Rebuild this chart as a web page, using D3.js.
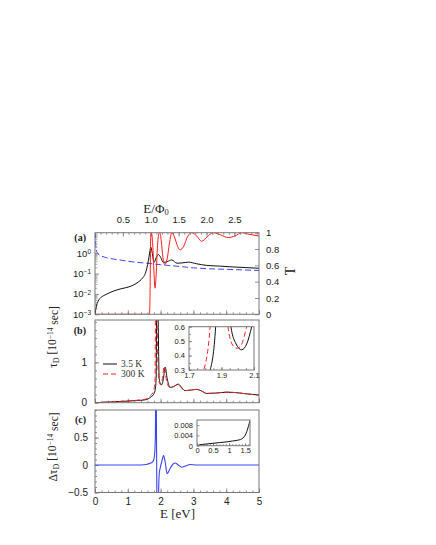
<!DOCTYPE html>
<html>
<head>
<meta charset="utf-8">
<script src="https://cdn.jsdelivr.net/npm/d3@7"></script>
<style>
  body { margin: 0; background: #fff; }
  .serif { font-family: "Liberation Serif", "Times New Roman", serif; }
</style>
</head>
<body>
<div id="chart"></div>
<script>
// ---- data ----
// (a) left log axis: black curve and blue dashed curve
let aBlackE = [0, 0.02, 0.05, 0.1, 0.15, 0.25, 0.36, 0.55, 0.8, 1.07, 1.25, 1.37, 1.45, 1.52, 1.58, 1.63, 1.67, 1.70, 1.74, 1.80, 1.87, 1.93, 2.0, 2.08, 2.2, 2.34, 2.5, 2.65, 2.85, 3.1, 3.4, 3.8, 4.2, 4.6, 5.0]
let aBlackV = [0.001, 0.0016, 0.0028, 0.0045, 0.006, 0.008, 0.0098, 0.0135, 0.018, 0.023, 0.032, 0.044, 0.06, 0.089, 0.18, 0.45, 1.12, 2.0, 1.12, 0.35, 0.63, 0.85, 0.63, 0.35, 0.38, 0.46, 0.32, 0.33, 0.36, 0.30, 0.25, 0.23, 0.21, 0.195, 0.18]
let aBlueE = [0, 0.01, 0.03, 0.06, 0.1, 0.2, 0.35, 0.56, 0.8, 1.1, 1.58, 2.0, 2.6, 3.0, 3.5, 4.0, 4.5, 5.0]
let aBlueV = [30, 8, 2, 1.12, 0.89, 0.71, 0.6, 0.51, 0.45, 0.38, 0.32, 0.27, 0.22, 0.19, 0.17, 0.16, 0.15, 0.14]
// (a) right axis: T (red)
let aRedE = [0, 1.66, 1.68, 1.69, 1.70, 1.72, 1.76, 1.80, 1.83, 1.86, 1.90, 1.95, 1.98, 2.02, 2.07, 2.13, 2.2, 2.28, 2.34, 2.42, 2.52, 2.59, 2.7, 2.82, 2.95, 3.1, 3.25, 3.42, 3.6, 3.85, 4.06, 4.27, 4.47, 4.7, 5.0]
let aRedT = [0, 0, 0.3, 0.7, 0.97, 1.0, 0.85, 0.5, 0.32, 0.45, 0.8, 0.99, 1.0, 0.9, 0.7, 0.61, 0.68, 0.9, 1.0, 0.95, 0.83, 0.79, 0.83, 0.95, 1.0, 0.96, 0.895, 0.95, 1.0, 0.97, 0.94, 0.96, 1.0, 0.98, 0.96]
let phi0 = 1.7

// (b) tau_D, 3.5 K and 300 K
let b35E = [0, 0.5, 1.0, 1.2, 1.4, 1.58, 1.7, 1.78, 1.83, 1.864, 1.88, 1.9, 1.92, 1.958, 1.99, 2.024, 2.055, 2.086, 2.14, 2.2, 2.29, 2.4, 2.54, 2.64, 2.74, 2.9, 3.1, 3.25, 3.4, 3.7, 4.0, 4.3, 4.6, 5.0]
let b35V = [0, 0.02, 0.04, 0.05, 0.06, 0.08, 0.14, 0.2, 0.3, 0.6, 2.5, 4, 2.5, 0.6, 0.48, 0.44, 0.48, 0.6, 0.88, 0.6, 0.38, 0.4, 0.46, 0.38, 0.3, 0.31, 0.33, 0.29, 0.23, 0.24, 0.26, 0.25, 0.22, 0.19]
let b300E = [0, 0.5, 1.0, 1.2, 1.4, 1.58, 1.7, 1.75, 1.79, 1.83, 1.845, 1.865, 1.885, 1.94, 1.97, 1.995, 2.02, 2.055, 2.11, 2.17, 2.27, 2.4, 2.52, 2.62, 2.72, 2.9, 3.08, 3.25, 3.4, 3.7, 4.0, 4.3, 4.6, 5.0]
let b300V = [0, 0.02, 0.045, 0.055, 0.07, 0.1, 0.18, 0.23, 0.3, 0.6, 2.5, 4, 2.5, 0.6, 0.47, 0.45, 0.47, 0.6, 0.9, 0.6, 0.38, 0.4, 0.46, 0.38, 0.3, 0.31, 0.33, 0.29, 0.23, 0.24, 0.26, 0.25, 0.22, 0.19]
let legendNames = ["3.5 K", "300 K"]

// (c) delta tau_D
let cE = [0, 1.3, 1.5, 1.6, 1.68, 1.74, 1.78, 1.81, 1.84, 1.86, 1.875, 1.89, 1.91, 1.935, 1.96, 1.99, 2.03, 2.09, 2.14, 2.2, 2.26, 2.33, 2.44, 2.54, 2.64, 2.75, 2.9, 3.1, 3.5, 4.0, 5.0]
let cV = [0, 0, 0.005, 0.015, 0.03, 0.05, 0.08, 0.15, 0.5, 2, 0.5, -1, -2, -0.6, -0.15, -0.05, 0.05, 0.17, 0.05, -0.16, -0.1, -0.02, 0.036, 0, -0.04, -0.02, 0.01, 0, 0, 0, 0]
// (c) inset
let ciE = [0, 0.1, 0.25, 0.47, 0.7, 0.93, 1.1, 1.25, 1.35, 1.43, 1.5, 1.55, 1.6, 1.65]
let ciV = [0, 0.0004, 0.0006, 0.0009, 0.0012, 0.0015, 0.0018, 0.0021, 0.0024, 0.003, 0.0041, 0.0055, 0.0075, 0.0098]

let width = 436
let height = 545
let frameCol = "#777"
let textCol = "#222"
let sans = '"Liberation Sans", Arial, sans-serif'
let serif = '"Liberation Serif", "Times New Roman", serif'

let svg = d3.select("#chart")
  .append("svg")
    .attr("width", width)
    .attr("height", height)
    .style("background", "#fff")

// panel geometry
let L = 95, R = 259
let pa = { top: 232.7, bottom: 314.3 }
let pb = { top: 320, bottom: 402.7 }
let pc = { top: 410, bottom: 492.5 }

let x = d3.scaleLinear().domain([0, 5]).range([L, R])
let xTop = d3.scaleLinear().domain([0, 5 / phi0]).range([L, R])
let ya = d3.scaleLog().domain([1e-3, 10]).range([pa.bottom, pa.top])
let yT = d3.scaleLinear().domain([0, 1]).range([pa.bottom, pa.top])
let yb = d3.scaleLinear().domain([0, 2.05]).range([pb.bottom, pb.top])
let yc = d3.scaleLinear().domain([-0.5, 1]).range([pc.bottom, pc.top])

// inset scales
let xbi = d3.scaleLinear().domain([1.7, 2.1]).range([189, 254])
let ybi = d3.scaleLinear().domain([0.3, 0.6]).range([370, 326.7])
let xci = d3.scaleLinear().domain([0, 1.65]).range([197, 250])
let yci = d3.scaleLinear().domain([0, 0.01]).range([445.7, 420])

let defs = svg.append("defs")
function clip(id, x0, y0, x1, y1) {
  defs.append("clipPath").attr("id", id)
    .append("rect").attr("x", x0).attr("y", y0).attr("width", x1 - x0).attr("height", y1 - y0)
  return "url(#" + id + ")"
}

function axis(gen, scale, values, size, fmt, pad, fs, tr) {
  let a = svg.append("g")
    .attr("transform", tr)
    .call(d3[gen](scale).tickValues(values).tickSize(-size).tickPadding(pad).tickFormat(fmt || (() => "")))
  a.attr("font-family", sans).attr("font-size", fs)
  a.select(".domain").remove()
  a.selectAll("line").attr("stroke", frameCol).attr("stroke-width", 0.8)
  a.selectAll("text").attr("fill", textCol)
  return a
}
let range = (a, b, s) => d3.range(Math.round((b - a) / s) + 1).map(i => +(a + i * s).toFixed(6))

function frame(x0, y0, x1, y1) {
  svg.append("rect")
    .attr("x", x0).attr("y", y0).attr("width", x1 - x0).attr("height", y1 - y0)
    .attr("fill", "none").attr("stroke", frameCol).attr("stroke-width", 1)
}

function curve(E, V, xs, ys, color, clipUrl, dash, w) {
  svg.append("path")
    .datum(d3.zip(E, V))
    .attr("clip-path", clipUrl)
    .attr("fill", "none")
    .attr("stroke", color)
    .attr("stroke-width", w || 1)
    .attr("stroke-dasharray", dash || null)
    .attr("d", d3.line().x(d => xs(d[0])).y(d => ys(d[1])).curve(d3.curveMonotoneX))
}

// ---------- panel (a) ----------
let clipA = clip("ca", L, pa.top, R, pa.bottom)
// bottom ticks
axis("axisBottom", x, range(0, 5, 0.2), 2, null, 0, 9, `translate(0,${pa.bottom})`)
axis("axisBottom", x, range(0, 5, 1), 4, null, 0, 9, `translate(0,${pa.bottom})`)
// top axis E/Phi0
axis("axisTop", xTop, range(0.1, 2.9, 0.1), 2, null, 0, 9, `translate(0,${pa.top})`)
axis("axisTop", xTop, [0.5, 1, 1.5, 2, 2.5], 4, d3.format(".1f"), 9.5, 9.5, `translate(0,${pa.top})`)
// left log axis
let logMinor = []
for (let k = -3; k < 1; k++) for (let m = 2; m <= 9; m++) logMinor.push(m * Math.pow(10, k))
axis("axisLeft", ya, logMinor, 2.5, null, 0, 9, `translate(${L},0)`).selectAll("line").attr("stroke", "#999")
let logAx = axis("axisLeft", ya, [1e-3, 1e-2, 1e-1, 1], 4, d => "", 4, 9.5, `translate(${L},0)`)
logAx.selectAll("text").each(function(d) {
  let e = Math.round(Math.log10(d))
  let t = d3.select(this)
  t.append("tspan").text("10")
  t.append("tspan").attr("dy", "-0.45em").attr("font-size", "0.68em").text(e === 0 ? "0" : "\u2212" + (-e))
})
// right T axis
axis("axisRight", yT, range(0, 1, 0.2), 4, d => (d === 0 || d === 1) ? d : d.toFixed(1), 7, 9.5, `translate(${R},0)`)

curve(aBlueE, aBlueV, x, ya, "#3c46f0", clipA, "6,3", 1)
curve(aBlackE, aBlackV, x, ya, "#111", clipA, null, 1)
curve(aRedE, aRedT, x, yT, "#ff1a1a", clipA, null, 1)
frame(L, pa.top, R, pa.bottom)

// ---------- panel (b) ----------
let clipB = clip("cb", L, pb.top, R, pb.bottom)
axis("axisBottom", x, range(0, 5, 0.2), 2, null, 0, 9, `translate(0,${pb.bottom})`)
axis("axisBottom", x, range(0, 5, 1), 4, null, 0, 9, `translate(0,${pb.bottom})`)
axis("axisLeft", yb, range(0, 2, 0.2), 2, null, 0, 9, `translate(${L},0)`)
axis("axisLeft", yb, [0, 1], 4, d3.format("d"), 8, 10, `translate(${L},0)`)

curve(b35E, b35V, x, yb, "#111", clipB, null, 1)
curve(b300E, b300V, x, yb, "#ff2020", clipB, "5,3", 1)
frame(L, pb.top, R, pb.bottom)

// legend
let legend = svg.append("g").attr("font-family", serif).attr("font-size", 9.5).attr("fill", "#333")
legend.append("line").attr("x1", 103).attr("x2", 117).attr("y1", 364).attr("y2", 364).attr("stroke", "#111")
legend.append("line").attr("x1", 103).attr("x2", 117).attr("y1", 374).attr("y2", 374).attr("stroke", "#ff2020").attr("stroke-dasharray", "5,3")
legend.append("text").attr("x", 121).attr("y", 367).text(legendNames[0])
legend.append("text").attr("x", 121).attr("y", 377).text(legendNames[1])

// inset (b)
svg.append("rect").attr("x", 189).attr("y", 326.7).attr("width", 65).attr("height", 43.3).attr("fill", "#fff")
let clipBI = clip("cbi", 189, 326.7, 254, 370)
axis("axisBottom", xbi, range(1.7, 2.1, 0.05), 2, null, 0, 7.5, `translate(0,370)`)
axis("axisBottom", xbi, [1.7, 1.9, 2.1], 3, d3.format(".1f"), 3, 7.5, `translate(0,370)`)
axis("axisLeft", ybi, range(0.3, 0.6, 0.05), 2, null, 0, 7.5, `translate(189,0)`)
axis("axisLeft", ybi, [0.3, 0.4, 0.5, 0.6], 3, d3.format(".1f"), 4, 7.5, `translate(189,0)`)
curve(b35E, b35V, xbi, ybi, "#111", clipBI, null, 1)
curve(b300E, b300V, xbi, ybi, "#ff2020", clipBI, "5,3", 1)
frame(189, 326.7, 254, 370)

// ---------- panel (c) ----------
let clipC = clip("cc", L, pc.top, R, pc.bottom)
axis("axisBottom", x, range(0, 5, 0.2), 2, null, 0, 9, `translate(0,${pc.bottom})`)
axis("axisBottom", x, range(0, 5, 1), 4, d3.format("d"), 5.5, 10, `translate(0,${pc.bottom})`)
axis("axisLeft", yc, range(-0.5, 1, 0.1), 2, null, 0, 9, `translate(${L},0)`)
axis("axisLeft", yc, [-0.5, 0, 0.5], 4, d => d === 0 ? "0" : d3.format(".1f")(d), 7, 10, `translate(${L},0)`)
curve(cE, cV, x, yc, "#3a44f5", clipC, null, 1.1)
frame(L, pc.top, R, pc.bottom)

// inset (c)
svg.append("rect").attr("x", 197).attr("y", 420).attr("width", 53).attr("height", 25.7).attr("fill", "#fff")
let clipCI = clip("cci", 197, 420, 250, 445.7)
axis("axisBottom", xci, range(0, 1.6, 0.1), 1.5, null, 0, 7.5, `translate(0,445.7)`)
axis("axisBottom", xci, [0, 0.5, 1, 1.5], 2.5, d => d, 2, 7.5, `translate(0,445.7)`)
axis("axisLeft", yci, [0, 0.004, 0.008], 2.5, d => d === 0 ? "0" : d3.format(".3f")(d), 4, 7.5, `translate(197,0)`)
curve(ciE, ciV, xci, yci, "#111", clipCI, null, 1)
frame(197, 420, 250, 445.7)

// ---------- titles ----------
let titles = svg.append("g").attr("font-family", serif).attr("fill", textCol)

let tb = titles.append("text").attr("transform", "translate(57,337) rotate(-90)").attr("text-anchor", "middle").attr("font-size", 11.5)
tb.append("tspan").text("\u03c4")
tb.append("tspan").attr("dy", "0.3em").attr("font-size", "0.7em").text("D")
tb.append("tspan").attr("dy", "-0.3em").text(" [10")
tb.append("tspan").attr("dy", "-0.45em").attr("font-size", "0.65em").text("\u221214")
tb.append("tspan").attr("dy", "0.45em").text(" sec]")

let tc = titles.append("text").attr("transform", "translate(57,447) rotate(-90)").attr("text-anchor", "middle").attr("font-size", 11.5)
tc.append("tspan").text("\u0394\u03c4")
tc.append("tspan").attr("dy", "0.3em").attr("font-size", "0.7em").text("D")
tc.append("tspan").attr("dy", "-0.3em").text(" [10")
tc.append("tspan").attr("dy", "-0.45em").attr("font-size", "0.65em").text("\u221214")
tc.append("tspan").attr("dy", "0.45em").text(" sec]")

let te = titles.append("text").attr("x", 156).attr("y", 212.5).attr("text-anchor", "middle").attr("font-size", 13)
te.append("tspan").text("E/\u03a6")
te.append("tspan").attr("dy", "0.3em").attr("font-size", "0.65em").text("0")

titles.append("text").attr("transform", "translate(295,271) rotate(-90)").attr("text-anchor", "middle").attr("font-size", 14).text("T")
titles.append("text").attr("x", 177.5).attr("y", 518).attr("text-anchor", "middle").attr("font-size", 13).text("E [eV]")

titles.append("text").attr("x", 86).attr("y", 241).attr("text-anchor", "end").attr("font-size", 10).attr("font-weight", "bold").text("(a)")
titles.append("text").attr("x", 86).attr("y", 334).attr("text-anchor", "end").attr("font-size", 10).attr("font-weight", "bold").text("(b)")
titles.append("text").attr("x", 86).attr("y", 423).attr("text-anchor", "end").attr("font-size", 10).attr("font-weight", "bold").text("(c)")
</script>
</body>
</html>
